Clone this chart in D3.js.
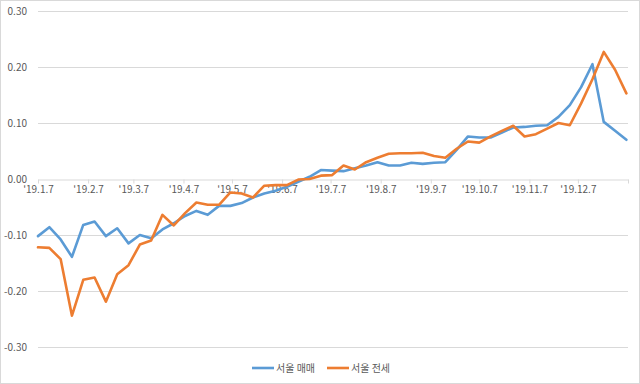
<!DOCTYPE html>
<html>
<head>
<meta charset="utf-8">
<script src="https://cdn.jsdelivr.net/npm/d3@7"></script>
<style>
  html, body { margin: 0; padding: 0; background: #fff; }
  svg { display: block; }
  text { font-family: "Noto Sans CJK KR", "Noto Sans", sans-serif; fill: #595959; }
</style>
</head>
<body>
<svg id="chart" width="640" height="384"></svg>
<script>
const weeks = [
  "2019-01-07","2019-01-14","2019-01-21","2019-01-28","2019-02-04","2019-02-11","2019-02-18","2019-02-25",
  "2019-03-04","2019-03-11","2019-03-18","2019-03-25","2019-04-01","2019-04-08","2019-04-15","2019-04-22",
  "2019-04-29","2019-05-06","2019-05-13","2019-05-20","2019-05-27","2019-06-03","2019-06-10","2019-06-17",
  "2019-06-24","2019-07-01","2019-07-08","2019-07-15","2019-07-22","2019-07-29","2019-08-05","2019-08-12",
  "2019-08-19","2019-08-26","2019-09-02","2019-09-09","2019-09-16","2019-09-23","2019-09-30","2019-10-07",
  "2019-10-14","2019-10-21","2019-10-28","2019-11-04","2019-11-11","2019-11-18","2019-11-25","2019-12-02",
  "2019-12-09","2019-12-16","2019-12-23","2019-12-30","2020-01-06"
];
const saleValues = [
  -0.102,-0.086,-0.108,-0.139,-0.082,-0.076,-0.102,-0.088,-0.115,-0.100,-0.106,-0.090,-0.079,-0.066,
  -0.057,-0.064,-0.048,-0.048,-0.043,-0.033,-0.026,-0.021,-0.014,-0.005,0.004,0.016,0.015,0.014,
  0.019,0.024,0.030,0.024,0.024,0.029,0.027,0.029,0.030,0.052,0.076,0.074,0.074,0.083,0.092,0.093,
  0.095,0.096,0.111,0.132,0.164,0.205,0.102,0.086,0.070
];
const jeonseValues = [
  -0.122,-0.123,-0.143,-0.244,-0.180,-0.176,-0.219,-0.170,-0.154,-0.117,-0.110,-0.064,-0.083,-0.061,
  -0.042,-0.046,-0.046,-0.024,-0.026,-0.033,-0.012,-0.011,-0.011,-0.001,0.000,0.006,0.007,0.024,
  0.017,0.030,0.038,0.045,0.046,0.046,0.047,0.041,0.038,0.054,0.067,0.065,0.076,0.086,0.095,0.076,
  0.080,0.090,0.100,0.096,0.135,0.178,0.227,0.195,0.153
];
const seriesNames = ["서울 매매", "서울 전세"];
const seriesColors = ["#5B9BD5", "#ED7D31"];
const tickDates = ["2019-01-07","2019-02-07","2019-03-07","2019-04-07","2019-05-07","2019-06-07",
  "2019-07-07","2019-08-07","2019-09-07","2019-10-07","2019-11-07","2019-12-07","2020-01-07"];
const tickLabels = ["'19.1.7","'19.2.7","'19.3.7","'19.4.7","'19.5.7","'19.6.7","'19.7.7",
  "'19.8.7","'19.9.7","'19.10.7","'19.11.7","'19.12.7",""];
const yTicks = [-0.3,-0.2,-0.1,0,0.1,0.2,0.3];
const yTickLabels = ["-0.30","-0.20","-0.10","0.00","0.10","0.20","0.30"];

const parse = d3.timeParse("%Y-%m-%d");
const svg = d3.select("#chart");

svg.append("rect").attr("x",0.5).attr("y",0.5).attr("width",639).attr("height",383)
  .attr("fill","#fff").attr("stroke","#d9d9d9");

const x = d3.scaleTime().domain([parse("2019-01-07"), parse("2020-01-07")]).range([38, 628]);
const y = d3.scaleLinear().domain([-0.3, 0.3]).range([347, 11]);

// gridlines
svg.append("g").selectAll("line").data(yTicks.filter(v => v !== 0)).join("line")
  .attr("x1", 38).attr("x2", 628)
  .attr("y1", d => Math.round(y(d)) + 0.5).attr("y2", d => Math.round(y(d)) + 0.5)
  .attr("stroke", "#d9d9d9").attr("stroke-width", 1);

// y labels
svg.append("g").selectAll("text").data(yTicks).join("text")
  .attr("x", 27).attr("y", d => y(d) + 3.5)
  .attr("text-anchor", "end").attr("font-size", 10)
  .text((d, i) => yTickLabels[i]);

// x axis at zero
const xAxis = d3.axisBottom(x)
  .tickValues(tickDates.map(parse))
  .tickFormat((d, i) => tickLabels[i])
  .tickSize(4).tickSizeOuter(0);
const gx = svg.append("g").attr("transform", `translate(0,${Math.round(y(0)) + 0.5})`).call(xAxis);
gx.select(".domain").attr("stroke", "#d9d9d9");
gx.selectAll(".tick line").attr("stroke", "#d9d9d9");
gx.selectAll(".tick text").attr("font-size", 10).attr("fill", "#595959")
  .attr("font-family", '"Noto Sans CJK KR", "Noto Sans", sans-serif').attr("dy", "0.9em").attr("y", 4);

// lines
const line = d3.line().x(d => x(d.date)).y(d => y(d.value));
[saleValues, jeonseValues].forEach((vals, si) => {
  const data = weeks.map((w, i) => ({ date: parse(w), value: vals[i] }));
  svg.append("path").datum(data).attr("d", line)
    .attr("fill", "none").attr("stroke", seriesColors[si])
    .attr("stroke-width", 2.6).attr("stroke-linejoin", "round").attr("stroke-linecap", "round");
});

// legend
const legendX = [252, 327];
seriesNames.forEach((name, i) => {
  const g = svg.append("g").attr("transform", `translate(${legendX[i]},368)`);
  g.append("line").attr("x1", 0).attr("x2", 22).attr("y1", 0).attr("y2", 0)
    .attr("stroke", seriesColors[i]).attr("stroke-width", 2.6);
  g.append("text").attr("x", 24).attr("y", 4).attr("font-size", 10).text(name);
});
</script>
</body>
</html>
